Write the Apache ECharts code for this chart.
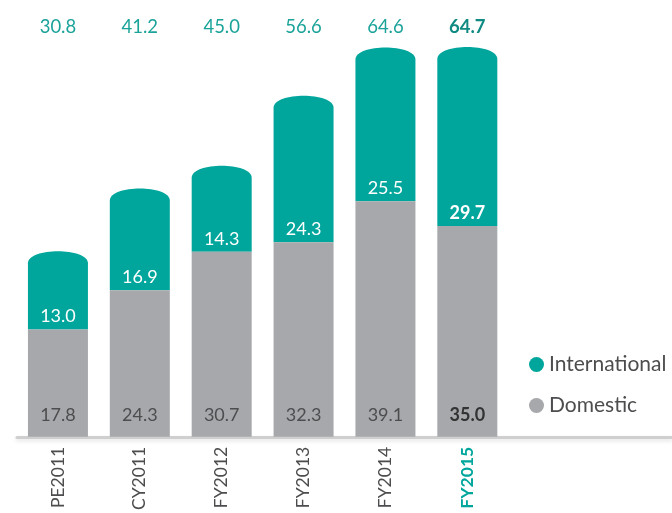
<!DOCTYPE html>
<html>
<head>
<meta charset="utf-8">
<script src="https://cdn.jsdelivr.net/npm/echarts@6/dist/echarts.min.js"></script>
<style>
  html, body { margin: 0; padding: 0; background: #fff; }
  #chart { width: 672px; height: 513px; }
</style>
</head>
<body>
<div id="chart"></div>
<script>
  const categories = ['PE2011', 'CY2011', 'FY2012', 'FY2013', 'FY2014', 'FY2015']
  const domestic = [17.8, 24.3, 30.7, 32.3, 39.1, 35.0] // grey, bottom
  const international = [13.0, 16.9, 14.3, 24.3, 25.5, 29.7] // teal, top
  const highlight = 5 // FY2015 is bold

  const teal = '#00a69c'
  const grey = '#a7a8ab'
  const font = 'Lato'

  const totals = categories.map((c, i) => (domestic[i] + international[i]).toFixed(1))

  const chart = echarts.init(document.getElementById('chart'))

  chart.setOption({
    animation: false,
    textStyle: { fontFamily: font },
    grid: { left: 17, right: 0, top: 15, bottom: 73 },
    legend: {
      orient: 'vertical',
      left: 524,
      top: 349,
      itemGap: 20,
      itemWidth: 15,
      itemHeight: 15,
      icon: 'circle',
      data: ['International', 'Domestic'],
      textStyle: { fontSize: 21, color: '#4d4d4f', fontFamily: font }
    },
    xAxis: [{
      type: 'category',
      data: categories,
      max: 7,
      axisTick: { show: false },
      axisLine: {
        lineStyle: {
          color: '#cfcfcf',
          width: 3,
          shadowColor: 'rgba(0,0,0,0.12)',
          shadowBlur: 4,
          shadowOffsetY: 2
        }
      },
      axisLabel: {
        rotate: 90,
        margin: 10,
        interval: 0,
        fontSize: 17.5,
        color: '#4d4d4f',
        formatter(v, i) {
          if (i >= categories.length || v == null) return ''
          return i === highlight ? '{b|' + v + '}' : v
        },
        rich: { b: { fontSize: 17.5, fontWeight: 'bold', color: teal, fontFamily: font } }
      }
    }, {
      type: 'category',
      position: 'top',
      data: categories,
      max: 7,
      axisTick: { show: false },
      axisLine: { show: false },
      axisLabel: {
        inside: true,
        margin: 3,
        interval: 0,
        fontSize: 18.5,
        color: '#1ba39a',
        formatter(v, i) {
          if (i >= categories.length) return ''
          return i === highlight ? '{b|' + totals[i] + '}' : totals[i]
        },
        rich: { b: { fontSize: 18.5, fontWeight: 'bold', color: '#0f8b83', fontFamily: font } }
      }
    }],
    yAxis: { type: 'value', show: false, min: 0, max: 70 },
    series: [{
      name: 'Domestic',
      type: 'bar',
      barWidth: 60,
      color: grey,
      itemStyle: { color: grey },
      label: {
        show: true,
        position: 'insideBottom',
        distance: 13,
        fontSize: 18,
        color: '#4d4d4f',
        formatter(p) { return Number(p.value).toFixed(1) }
      },
      data: domestic.map((v, i) => i === highlight
        ? { value: v, label: { fontWeight: 'bold', color: '#333' } }
        : v)
    }, {
      name: 'International',
      type: 'custom',
      color: teal,
      itemStyle: { color: teal },
      encode: { x: 0, y: 2 },
      data: categories.map((c, i) => [i, domestic[i], international[i]]),
      renderItem(params, api) {
        const i = api.value(0)
        const dom = api.value(1)
        const intl = api.value(2)
        const base = api.coord([i, dom])
        const top = api.coord([i, dom + intl])
        const w = 60
        const x0 = base[0] - w / 2
        const x1 = base[0] + w / 2
        const yb = base[1]
        const yt = top[1]
        const cap = 12
        // flat rounded cap on top of the teal segment
        const d = 'M' + x0 + ' ' + yb + ' L' + x0 + ' ' + (yt + cap) +
          ' C' + x0 + ' ' + (yt - 4) + ' ' + x1 + ' ' + (yt - 4) + ' ' + x1 + ' ' + (yt + cap) +
          ' L' + x1 + ' ' + yb + ' Z'
        const bold = i === highlight
        return {
          type: 'group',
          children: [{
            type: 'path',
            shape: { pathData: d },
            style: { fill: teal }
          }, {
            type: 'text',
            x: base[0],
            y: yb - 4,
            style: {
              text: intl.toFixed(1),
              fill: '#fff',
              fontSize: 18,
              fontWeight: bold ? 'bold' : 'normal',
              fontFamily: font,
              align: 'center',
              verticalAlign: 'bottom'
            }
          }]
        }
      }
    }]
  })
</script>
</body>
</html>
